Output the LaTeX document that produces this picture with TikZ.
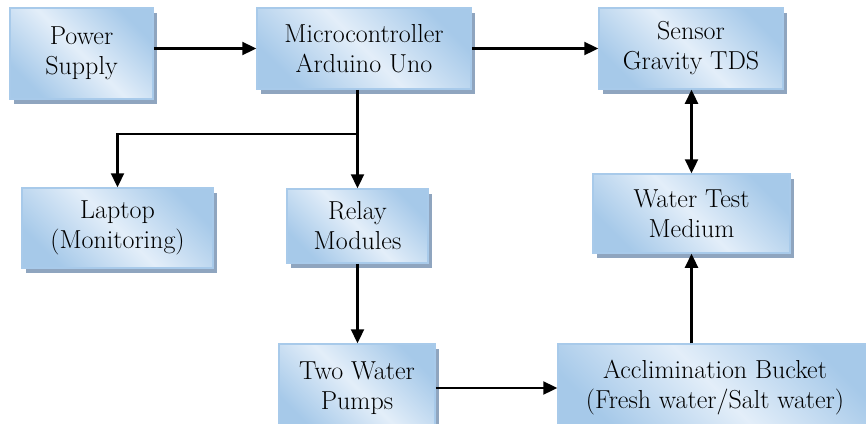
\documentclass[tikz,border=0pt]{standalone}
\usetikzlibrary{arrows.meta,shadows,calc}
\definecolor{boxlight}{HTML}{E3EEF9}
\definecolor{boxdark}{HTML}{A6C9E9}
\definecolor{boxline}{HTML}{A8CAEA}
\definecolor{shadowc}{HTML}{8FA5BF}
\tikzset{
  box/.style={draw=boxline, line width=1.5pt,
    top color=boxdark, bottom color=boxdark, middle color=boxlight,
    shading angle=-45,
    drop shadow={shadow xshift=4pt, shadow yshift=-5pt, fill=shadowc, opacity=1, draw=none},
    align=center, inner sep=2pt,
    font=\fontsize{26}{30}\selectfont},
  arr/.style={line width=2.3pt, -{Triangle[length=14pt,width=13pt]}},
  arrboth/.style={line width=2.3pt, {Triangle[length=14pt,width=13pt]}-{Triangle[length=14pt,width=13pt]}}
}
\begin{document}
\begin{tikzpicture}[x=1pt,y=-1pt]
\useasboundingbox (0,0) rectangle (866,423);
\node[box, minimum width=143pt, minimum height=91pt] (power) at (81.5,53.5) {Power\\Supply};
\node[box, minimum width=214pt, minimum height=81pt] (micro) at (364,48.5) {Microcontroller\\Arduino Uno};
\node[box, minimum width=184pt, minimum height=81pt] (sensor) at (691,48.5) {Sensor\\Gravity TDS};
\node[box, minimum width=191pt, minimum height=80pt] (laptop) at (117.5,228) {Laptop\\(Monitoring)};
\node[box, minimum width=141pt, minimum height=74pt] (relay) at (357.5,226) {Relay\\Modules};
\node[box, minimum width=197pt, minimum height=79pt] (water) at (691.5,213.5) {Water Test\\Medium};
\node[box, minimum width=156pt, minimum height=88pt] (pumps) at (357,388) {Two Water\\Pumps};
\node[box, minimum width=314pt, minimum height=88pt] (acclim) at (715,388) {Acclimination Bucket\\(Fresh water/Salt water)};
\coordinate (br) at ($(relay.north |- micro.south)+(0,44)$);
\draw[arr] (power.east |- micro.west) -- (micro.west);
\draw[arr] (micro.east) -- (sensor.west);
\draw[arr] (relay.north |- micro.south) -- (relay.north);
\draw[arr] (br) -| (laptop.north);
\draw[arr] (relay.south) -- (relay.south |- pumps.north);
\draw[arr] (pumps.east) -- (pumps.east -| acclim.west);
\draw[arr] (water.south |- acclim.north) -- (water.south);
\draw[arrboth] (water.north |- sensor.south) -- (water.north);
\end{tikzpicture}
\end{document}
